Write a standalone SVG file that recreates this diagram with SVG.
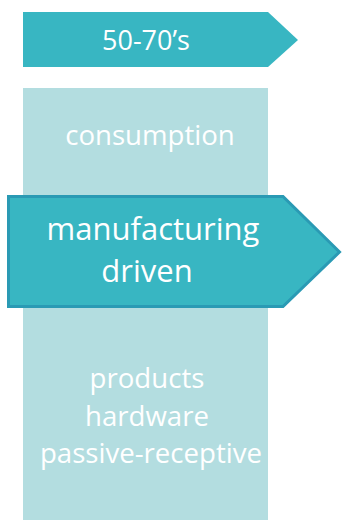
<svg xmlns="http://www.w3.org/2000/svg" width="342" height="520" viewBox="0 0 342 520">
<style>
.t{font-family:"Open Sans","Liberation Sans",sans-serif;fill:#ffffff;text-anchor:middle}
.dark{fill:#38b6c2}
.light{fill:#b3dde0}
</style>
<rect width="342" height="520" fill="#ffffff"/>
<g id="column">
<rect class="light" x="23" y="88" width="245" height="432"/>
<text class="t" x="150" y="145" font-size="27.6">consumption</text>
<text class="t" x="147" y="388" font-size="27.6">products</text>
<text class="t" x="147" y="426" font-size="27.6">hardware</text>
<text class="t" x="151" y="463" font-size="27.6">passive-receptive</text>
</g>
<g id="era">
<polygon class="dark" points="23,12 268,12 298,40 268,67 23,67"/>
<text class="t" x="146" y="50" font-size="27">50-70’s</text>
</g>
<g id="driver">
<polygon class="dark" points="8.5,196.5 283,196.5 339.5,252 283,306.5 8.5,306.5" stroke="#2a9ab4" stroke-width="3" stroke-linejoin="miter"/>
<text class="t" x="153" y="240" font-size="31">manufacturing</text>
<text class="t" x="147" y="282" font-size="31">driven</text>
</g>
<g id="connectors"/>
</svg>
